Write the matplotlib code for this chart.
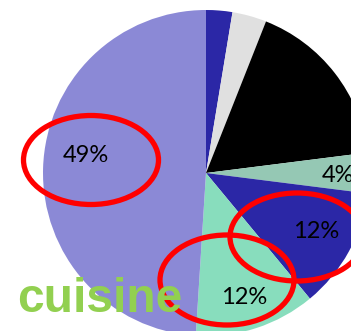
import matplotlib.pyplot as plt
from matplotlib.patches import Ellipse

# slice shares in percent, clockwise from 12 o'clock
shares = [2.6, 3.4, 17.0, 4.0, 12.0, 12.0, 49.0]
colors = ['#2B27A6', '#E0E0E0', '#000000', '#95C8B4', '#2B27A6', '#88DDBD', '#8B89D6']

# which slices get a percentage label and where (pixel coords, y from top)
label_idx = [3, 4, 5, 6]
label_pos = [(338, 175), (316, 232), (244, 297), (86, 155)]

# red highlight rings (center x, center y, width, height)
rings = [(91, 160, 135, 89), (297, 237, 134, 88), (227, 280, 134, 90)]

W, H = 351, 331
fig = plt.figure(figsize=(W/100, H/100), dpi=100)
ax = fig.add_axes([0, 0, 1, 1])

cx, cy, r = 206, 173, 163
ax.pie(shares, colors=colors, startangle=90, counterclock=False,
       center=(cx, H-cy), radius=r, frame=True,
       wedgeprops={'linewidth': 0})

for i, (x, y) in zip(label_idx, label_pos):
  ax.text(x, H-y, f'{shares[i]:.0f}%', ha='center', va='center',
          fontsize=17, family='Lato', color='black', zorder=4)

for x, y, w, h in rings:
  ax.add_patch(Ellipse((x, H-y), w, h, fill=False, edgecolor='#FF0000',
                       linewidth=3.8, zorder=5))

ax.text(17, H-312, 'cuisine', ha='left', va='baseline', fontsize=34.5,
        family='Liberation Sans', fontweight='bold', color='#92D050', zorder=6)

ax.set_xlim(0, W)
ax.set_ylim(0, H)
ax.set_aspect('auto')
ax.axis('off')

fig.savefig('out.png', dpi=100)
